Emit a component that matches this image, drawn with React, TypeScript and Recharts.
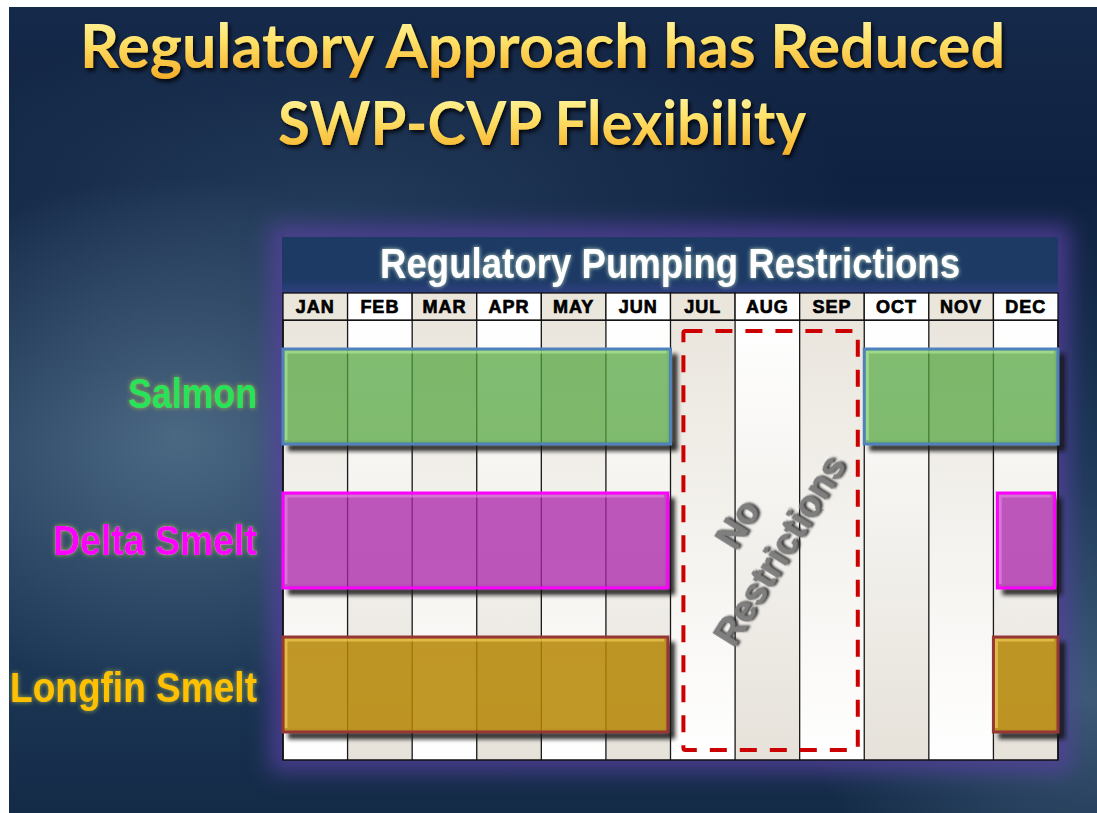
import React from "react"
import { BarChart, Bar, XAxis, YAxis, CartesianGrid, ReferenceArea } from "recharts"

// ---- data ----
const months = ["JAN", "FEB", "MAR", "APR", "MAY", "JUN", "JUL", "AUG", "SEP", "OCT", "NOV", "DEC"]
const species = ["Salmon", "Delta Smelt", "Longfin Smelt"]
// restriction windows, in months from Jan 1 (0 = start of JAN, 12 = end of DEC)
const springWindow: [number, number][] = [[0, 6], [0, 5.96], [0, 5.96]]
const winterWindow: [number, number][] = [[9, 12], [11.06, 11.95], [11, 12]]
const openSeason: [number, number] = [6.2, 8.9]
const monthEdges = [0, 1, 2, 3, 4, 5, 6, 7, 8, 9, 10, 11, 12]

// ---- styles ----
const speciesFill = ["#52a43e", "#ab25ab", "#b58602"]
const speciesAlpha = [0.73, 0.76, 0.85]
const speciesEdge = ["#4f81bd", "#ff00ff", "#953735"]
const speciesShine = ["#b4ec98", "#e488e4", "#f8d35a"]
const labelColor = ["#28e45a", "#ff00ff", "#ffc000"]
const labelWidth = [129, 204, 247]

const CHART_W = 1070
const CHART_H = 775
const PLOT_LEFT = 283
const PLOT_RIGHT = 1058
const HEADER_H = 27
const COL_W = (PLOT_RIGHT - PLOT_LEFT) / months.length
const ARIAL = "'Liberation Sans', Arial, Helvetica, sans-serif"

const rows = species.map((name, i) => ({
    name,
    spring: springWindow[i],
    winter: winterWindow[i],
}))

function MonthHeader(props: any) {
    const { x, y, payload } = props
    const i = payload.value
    if (i >= months.length) return null
    return (
        <g>
            <rect
                x={x}
                y={y - HEADER_H}
                width={COL_W}
                height={HEADER_H}
                fill={i % 2 === 0 ? "#ebe6dc" : "#ffffff"}
                stroke="#111"
                strokeWidth={1.3}
            />
            <text
                x={x + COL_W / 2}
                y={y - 7}
                textAnchor="middle"
                fontFamily={ARIAL}
                fontWeight={700}
                fontSize={18}
                letterSpacing={1}
                fill="#000"
                stroke="#000"
                strokeWidth={0.7}
            >
                {months[i]}
            </text>
        </g>
    )
}

function SpeciesLabel(props: any) {
    const { x, y, payload } = props
    const i = species.indexOf(payload.value)
    return (
        <text
            x={x - 26}
            y={y + 15}
            textAnchor="end"
            fontFamily={ARIAL}
            fontWeight={700}
            fontSize={43}
            fill={labelColor[i]}
            textLength={labelWidth[i]}
            lengthAdjust="spacingAndGlyphs"
            filter="url(#labelGlow)"
        >
            {payload.value}
        </text>
    )
}

function WindowBar(props: any) {
    const { x, y, width, height, payload } = props
    if (!width || width <= 0) return null
    const i = species.indexOf(payload.name)
    return (
        <g>
            {/* drop shadow, right and bottom only */}
            <g filter="url(#barShadow)" fill="#121212" opacity={0.9}>
                <rect x={x + width} y={y + 5} width={7} height={height + 1} />
                <rect x={x + 5} y={y + height} width={width + 2} height={7} />
            </g>
            <rect x={x} y={y} width={width} height={height} fill={speciesFill[i]} fillOpacity={speciesAlpha[i]} />
            <polyline
                points={`${x + 3},${y + height - 4} ${x + 3},${y + 3} ${x + width - 4},${y + 3}`}
                fill="none"
                stroke={speciesShine[i]}
                strokeWidth={3}
                opacity={0.6}
            />
            <rect x={x} y={y} width={width} height={height} fill="none" stroke={speciesEdge[i]} strokeWidth={3} />
        </g>
    )
}

function OpenSeasonBox(props: any) {
    const { x, y, width, height } = props
    const cx = x + width / 2 - 12
    const cy = y + height / 2 - 3
    return (
        <g>
            <rect
                x={x}
                y={y + 11}
                width={width}
                height={height - 21}
                fill="none"
                stroke="#cc0000"
                strokeWidth={4}
                strokeDasharray="17 13"
                rx={2}
            />
            <g transform={`translate(${cx},${cy}) rotate(-58)`} filter="url(#greyShadow)">
                <text
                    x={0}
                    y={-25}
                    textAnchor="middle"
                    dominantBaseline="central"
                    fontFamily={ARIAL}
                    fontWeight={700}
                    fontSize={37}
                    fill="#7f7f7f"
                    stroke="#7a7a7a"
                    strokeWidth={0.6}
                >
                    No
                </text>
                <text
                    x={0}
                    y={25}
                    textAnchor="middle"
                    dominantBaseline="central"
                    fontFamily={ARIAL}
                    fontWeight={700}
                    fontSize={37}
                    fill="#7f7f7f"
                    stroke="#7a7a7a"
                    strokeWidth={0.6}
                    textLength={216}
                    lengthAdjust="spacingAndGlyphs"
                >
                    Restrictions
                </text>
            </g>
        </g>
    )
}

function RestrictionChart() {
    return (
        <BarChart
            width={CHART_W}
            height={CHART_H}
            data={rows}
            layout="vertical"
            margin={{ top: 293, right: CHART_W - PLOT_RIGHT, bottom: 15, left: 0 }}
            barSize={95}
            barGap={-95}
        >
            {months.map((m, i) => (
                <ReferenceArea
                    key={m}
                    x1={i}
                    x2={i + 1}
                    fill={i % 2 === 0 ? "url(#colA)" : "url(#colB)"}
                    fillOpacity={1}
                    stroke="none"
                    zIndex={-150}
                />
            ))}
            <CartesianGrid horizontal={false} stroke="#1a1a1a" strokeWidth={1.3} />
            <XAxis
                type="number"
                orientation="top"
                domain={[0, 12]}
                ticks={monthEdges}
                interval={0}
                height={HEADER_H}
                tickSize={0}
                tickMargin={0}
                tickLine={false}
                axisLine={{ stroke: "#111", strokeWidth: 1.3 }}
                tick={(p: any) => <MonthHeader {...p} />}
            />
            <YAxis
                type="category"
                dataKey="name"
                width={PLOT_LEFT}
                tickSize={0}
                tickMargin={0}
                tickLine={false}
                axisLine={false}
                tick={(p: any) => <SpeciesLabel {...p} />}
            />
            {/* hidden axis for the bars, padded so the bands sit a little lower like the slide */}
            <YAxis yAxisId="bars" type="category" dataKey="name" hide padding={{ top: 4, bottom: 4 }} />
            <ReferenceArea x1={openSeason[0]} x2={openSeason[1]} shape={(p: any) => <OpenSeasonBox {...p} />} />
            <Bar yAxisId="bars" dataKey="spring" isAnimationActive={false} shape={(p: any) => <WindowBar {...p} />} />
            <Bar yAxisId="bars" dataKey="winter" isAnimationActive={false} shape={(p: any) => <WindowBar {...p} />} />
            <ReferenceArea x1={0} x2={12} fill="none" fillOpacity={0} stroke="#111" strokeWidth={1.5} />
        </BarChart>
    )
}

export default function App() {
    return (
        <div style={{ position: "absolute", left: 0, top: 0, width: 1097, height: 813, background: "#fff", overflow: "hidden" }}>
            <svg width={0} height={0} style={{ position: "absolute" }}>
                <defs>
                    <linearGradient id="colA" x1="0" y1="0" x2="0" y2="1">
                        <stop offset="0%" stopColor="#eae6de" />
                        <stop offset="100%" stopColor="#ffffff" />
                    </linearGradient>
                    <linearGradient id="colB" x1="0" y1="0" x2="0" y2="1">
                        <stop offset="0%" stopColor="#ffffff" />
                        <stop offset="100%" stopColor="#e6e2da" />
                    </linearGradient>
                    <linearGradient id="titleGold" x1="0" y1="0" x2="0" y2="1">
                        <stop offset="0%" stopColor="#fffcb8" />
                        <stop offset="45%" stopColor="#ffe26a" />
                        <stop offset="100%" stopColor="#f5ab22" />
                    </linearGradient>
                    <filter id="barShadow" x="-20%" y="-20%" width="140%" height="140%">
                        <feGaussianBlur stdDeviation="2" />
                    </filter>
                    <filter id="labelGlow" x="-20%" y="-40%" width="140%" height="180%">
                        <feDropShadow dx="0" dy="0" stdDeviation="2.5" floodColor="#a9b84a" floodOpacity="0.9" />
                    </filter>
                    <filter id="titleShadow" x="-10%" y="-30%" width="120%" height="160%">
                        <feDropShadow dx="2" dy="3" stdDeviation="2" floodColor="#000" floodOpacity="0.85" />
                    </filter>
                    <filter id="headGlow" x="-10%" y="-40%" width="120%" height="180%">
                        <feDropShadow dx="0" dy="0" stdDeviation="2.2" floodColor="#b8d6c2" floodOpacity="1" />
                    </filter>
                    <filter id="greyShadow" x="-20%" y="-20%" width="140%" height="140%">
                        <feDropShadow dx="2" dy="2" stdDeviation="1.2" floodColor="#222" floodOpacity="0.9" />
                    </filter>
                </defs>
            </svg>

            {/* slide background */}
            <div
                style={{
                    position: "absolute",
                    left: 9,
                    top: 7,
                    width: 1088,
                    height: 806,
                    background: [
                        "radial-gradient(ellipse 330px 260px at 170px 430px, rgba(95,125,150,0.7), rgba(95,125,150,0) 100%)",
                        "radial-gradient(ellipse 280px 240px at 1075px 690px, rgba(85,115,145,0.6), rgba(85,115,145,0) 100%)",
                        "radial-gradient(ellipse 520px 180px at 330px 200px, rgba(55,85,115,0.5), rgba(55,85,115,0) 100%)",
                        "linear-gradient(180deg, #15294a 0%, #0f2140 22%, #1d3858 55%, #1c3756 80%, #142b47 100%)",
                    ].join(","),
                }}
            />
            {/* purple glow round the table */}
            <div
                style={{
                    position: "absolute",
                    left: 282,
                    top: 237,
                    width: 776,
                    height: 523,
                    background: "#3b3880",
                    boxShadow: "0 0 20px 12px rgba(88,64,160,0.75)",
                }}
            />
            {/* table title bar */}
            <div
                style={{
                    position: "absolute",
                    left: 282,
                    top: 237,
                    width: 776,
                    height: 56,
                    background: "linear-gradient(180deg, #1c3a64 0%, #1c3a64 75%, #2f3f80 100%)",
                }}
            />
            <svg width={1097} height={813} style={{ position: "absolute", left: 0, top: 0 }}>
                <text
                    x={80}
                    y={68}
                    fontFamily="Lato, 'Open Sans', sans-serif"
                    fontWeight={700}
                    fontSize={62}
                    fill="url(#titleGold)"
                    textLength={925}
                    lengthAdjust="spacingAndGlyphs"
                    filter="url(#titleShadow)"
                >
                    Regulatory Approach has Reduced
                </text>
                <text
                    x={278}
                    y={145}
                    fontFamily="Lato, 'Open Sans', sans-serif"
                    fontWeight={700}
                    fontSize={62}
                    fill="url(#titleGold)"
                    textLength={528}
                    lengthAdjust="spacingAndGlyphs"
                    filter="url(#titleShadow)"
                >
                    SWP-CVP Flexibility
                </text>
                <text
                    x={380}
                    y={278}
                    fontFamily={ARIAL}
                    fontWeight={700}
                    fontSize={42}
                    fill="#ffffff"
                    textLength={580}
                    lengthAdjust="spacingAndGlyphs"
                    filter="url(#headGlow)"
                >
                    Regulatory Pumping Restrictions
                </text>
            </svg>
            <div style={{ position: "absolute", left: 0, top: 0 }}>
                <RestrictionChart />
            </div>
        </div>
    )
}
